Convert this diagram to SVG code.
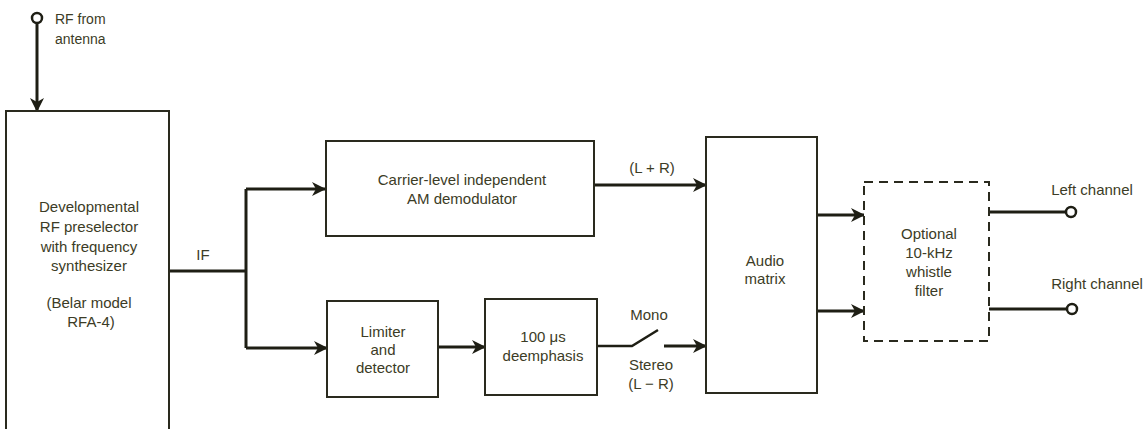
<svg xmlns="http://www.w3.org/2000/svg" width="1143" height="429" viewBox="0 0 1143 429">
<style>
.box{fill:#fff;stroke:#2a2a1e;stroke-width:2}
.dash{fill:#fff;stroke:#2a2a1e;stroke-width:2;stroke-dasharray:9 6}
.c{fill:none;stroke:#1e1e14;stroke-width:3}
.t{font-family:"Liberation Sans",Arial,sans-serif;font-size:15px;fill:#3c3c26;text-anchor:middle}
.s{font-family:"Liberation Sans",Arial,sans-serif;font-size:14px;fill:#3c3c26}
.term{fill:#fff;stroke:#1e1e14;stroke-width:2.5}
</style>
<defs>
<marker id="arr" markerUnits="userSpaceOnUse" viewBox="0 0 14 14" refX="13" refY="7" markerWidth="14" markerHeight="14" orient="auto">
<path d="M0,0 L14,7 L0,14 L4,7 z" fill="#1e1e14"/>
</marker>
</defs>
<rect width="1143" height="429" fill="#fff"/>

<g id="connectors">
<line class="c" x1="37" y1="23" x2="37" y2="111" marker-end="url(#arr)"/>
<polyline class="c" points="170,271 246,271"/>
<line class="c" x1="246" y1="189" x2="246" y2="348"/>
<line class="c" x1="246" y1="189" x2="325" y2="189" marker-end="url(#arr)"/>
<line class="c" x1="246" y1="348" x2="327" y2="348" marker-end="url(#arr)"/>
<line class="c" x1="594" y1="185" x2="706" y2="185" marker-end="url(#arr)"/>
<line class="c" x1="438" y1="347" x2="485" y2="347" marker-end="url(#arr)"/>
<polyline class="c" points="597,346 632,346 658,330" style="stroke-width:2.5"/>
<line class="c" x1="664" y1="346" x2="706" y2="346" marker-end="url(#arr)"/>
<line class="c" x1="817" y1="215" x2="864" y2="215" marker-end="url(#arr)"/>
<line class="c" x1="817" y1="311" x2="864" y2="311" marker-end="url(#arr)"/>
<line class="c" x1="989" y1="212" x2="1066" y2="212"/>
<line class="c" x1="989" y1="309" x2="1067" y2="309"/>
<text class="t" x="203" y="260">IF</text>
<text class="t" x="652" y="173">(L + R)</text>
<text class="t" x="649" y="320">Mono</text>
<text class="t" x="651" y="370">Stereo</text>
<text class="t" x="651" y="389">(L − R)</text>
</g>

<g id="antenna">
<circle class="term" cx="37" cy="18" r="5"/>
<text class="s" x="55" y="24">RF from</text>
<text class="s" x="55" y="44">antenna</text>
</g>

<g id="preselector">
<rect class="box" x="6" y="111" width="163" height="330"/>
<text class="t" x="89" y="212">Developmental</text>
<text class="t" x="89" y="232">RF preselector</text>
<text class="t" x="89" y="252">with frequency</text>
<text class="t" x="89" y="271">synthesizer</text>
<text class="t" x="89" y="308">(Belar model</text>
<text class="t" x="91" y="327">RFA-4)</text>
</g>

<g id="am-demod">
<rect class="box" x="326" y="141" width="268" height="95"/>
<text class="t" x="462" y="185">Carrier-level independent</text>
<text class="t" x="462" y="204">AM demodulator</text>
</g>

<g id="limiter">
<rect class="box" x="327" y="301" width="111" height="96"/>
<text class="t" x="383" y="337">Limiter</text>
<text class="t" x="383" y="355">and</text>
<text class="t" x="383" y="373">detector</text>
</g>

<g id="deemphasis">
<rect class="box" x="485" y="299" width="112" height="96"/>
<text class="t" x="543" y="342">100 μs</text>
<text class="t" x="543" y="361">deemphasis</text>
</g>

<g id="audio-matrix">
<rect class="box" x="706" y="137" width="111" height="256"/>
<text class="t" x="765" y="266">Audio</text>
<text class="t" x="765" y="284">matrix</text>
</g>

<g id="whistle-filter">
<rect class="dash" x="864" y="182" width="125" height="159"/>
<text class="t" x="929" y="239">Optional</text>
<text class="t" x="929" y="258">10-kHz</text>
<text class="t" x="929" y="277">whistle</text>
<text class="t" x="929" y="296">filter</text>
</g>

<g id="left-out">
<circle class="term" cx="1071" cy="212" r="5"/>
<text class="t" x="1092" y="195">Left channel</text>
</g>

<g id="right-out">
<circle class="term" cx="1072" cy="309" r="5"/>
<text class="t" x="1097" y="289">Right channel</text>
</g>
</svg>
